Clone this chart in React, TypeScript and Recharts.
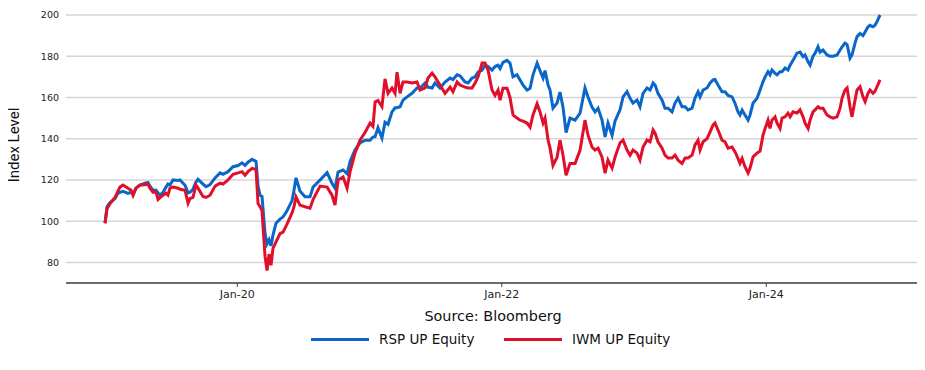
import { CartesianGrid, Line, LineChart, XAxis, YAxis } from "recharts"

// decimal year of each observation
const dates = [
  2019.0, 2019.015, 2019.038, 2019.076, 2019.098, 2019.113, 2019.136, 2019.174, 2019.197, 2019.212,
  2019.234, 2019.265, 2019.302, 2019.325, 2019.34, 2019.363, 2019.386, 2019.401, 2019.416, 2019.439,
  2019.461, 2019.476, 2019.491, 2019.514, 2019.552, 2019.567, 2019.605, 2019.628, 2019.643, 2019.665,
  2019.688, 2019.703, 2019.741, 2019.764, 2019.794, 2019.832, 2019.87, 2019.892, 2019.93, 2019.968,
  2020.006, 2020.036, 2020.059, 2020.081, 2020.112, 2020.142, 2020.157, 2020.172, 2020.187, 2020.21,
  2020.225, 2020.24, 2020.255, 2020.27, 2020.293, 2020.323, 2020.346, 2020.376, 2020.414, 2020.429,
  2020.444, 2020.474, 2020.512, 2020.55, 2020.573, 2020.626, 2020.679, 2020.716, 2020.739, 2020.762,
  2020.8, 2020.83, 2020.853, 2020.89, 2020.928, 2020.966, 2021.004, 2021.026, 2021.042, 2021.064,
  2021.094, 2021.117, 2021.14, 2021.17, 2021.193, 2021.208, 2021.231, 2021.253, 2021.284, 2021.321,
  2021.359, 2021.382, 2021.42, 2021.442, 2021.473, 2021.495, 2021.533, 2021.571, 2021.609, 2021.631,
  2021.662, 2021.684, 2021.722, 2021.745, 2021.775, 2021.798, 2021.82, 2021.851, 2021.873, 2021.896,
  2021.926, 2021.949, 2021.972, 2021.987, 2022.009, 2022.04, 2022.062, 2022.085, 2022.115, 2022.138,
  2022.161, 2022.191, 2022.214, 2022.236, 2022.267, 2022.289, 2022.312, 2022.327, 2022.35, 2022.365,
  2022.387, 2022.418, 2022.44, 2022.463, 2022.486, 2022.516, 2022.554, 2022.592, 2022.629, 2022.652,
  2022.682, 2022.705, 2022.728, 2022.758, 2022.781, 2022.803, 2022.834, 2022.856, 2022.894, 2022.917,
  2022.947, 2022.97, 2022.992, 2023.023, 2023.045, 2023.068, 2023.098, 2023.121, 2023.144, 2023.159,
  2023.181, 2023.212, 2023.234, 2023.257, 2023.287, 2023.31, 2023.333, 2023.363, 2023.386, 2023.408,
  2023.439, 2023.461, 2023.484, 2023.499, 2023.522, 2023.552, 2023.575, 2023.597, 2023.612, 2023.635,
  2023.665, 2023.688, 2023.711, 2023.741, 2023.764, 2023.786, 2023.801, 2023.817, 2023.839, 2023.862,
  2023.877, 2023.9, 2023.93, 2023.953, 2023.975, 2023.991, 2024.013, 2024.028, 2024.043, 2024.066,
  2024.081, 2024.104, 2024.119, 2024.142, 2024.164, 2024.18, 2024.202, 2024.232, 2024.255, 2024.278,
  2024.293, 2024.316, 2024.331, 2024.353, 2024.369, 2024.391, 2024.406, 2024.429, 2024.459, 2024.482,
  2024.505, 2024.535, 2024.558, 2024.573, 2024.595, 2024.611, 2024.633, 2024.648, 2024.671, 2024.686,
  2024.709, 2024.731, 2024.747, 2024.769, 2024.784, 2024.807, 2024.822, 2024.837, 2024.86,
]

const rspValues = [
  99, 107, 109, 111, 113.5, 114, 114.5, 113.5, 114, 113,
  116, 117.5, 118.4, 118.8, 117, 115, 115, 113.6, 112.6, 114,
  116.5, 118, 117.5, 120, 119.7, 120, 117.4, 113.7, 114, 115.5,
  119, 120.3, 118, 116.7, 117.7, 121, 123.4, 122.7, 124, 126.4,
  127, 128.3, 127, 128.6, 130, 129, 117, 112.6, 112, 94,
  89, 91, 88, 93.2, 99, 101, 102, 105, 110, 115,
  121, 114.6, 111.8, 111.8, 116.5, 120, 123.5, 118.4, 116, 123.8,
  124.8, 123, 129, 134.5, 138, 139.3, 139.3, 140.8, 141, 145.3,
  140.3, 148, 147, 153, 155, 155, 155.5, 158.7, 160.3, 162,
  164.6, 164.6, 167, 165, 164.6, 167, 164.6, 167.5, 169.4, 168.7,
  171, 170.5, 167.5, 167, 169.4, 170, 172.3, 173.3, 175.7, 175,
  173.3, 175, 175.7, 174, 177, 178, 176.7, 170, 171, 168.5,
  166, 163.6, 164.5, 171, 176.7, 173, 169.4, 173, 166, 163.6,
  154.8, 157.3, 162.6, 155.3, 143, 150, 149, 152.4, 164.6, 160.2,
  155.3, 153, 154.8, 149, 140.8, 147.6, 141.7, 148.5, 154, 160.3,
  162.8, 159.6, 157.3, 158.7, 155.5, 162, 164.6, 163.6, 167, 166,
  162, 158.7, 154.8, 154.8, 153, 157.3, 159.7, 155.5, 155.5, 153.9,
  154.8, 159.7, 162.8, 160.3, 163.6, 164.6, 167, 168.5, 168.7, 166,
  162.8, 162.8, 161, 160.3, 157.1, 153, 151.5, 153.9, 151.5, 149,
  151.5, 157.3, 159.6, 163.6, 167.6, 170, 172.5, 171, 173.3, 171.7,
  171, 172.5, 172.5, 174.3, 173.3, 175.7, 178, 181.5, 182, 179.8,
  180.6, 177.3, 175.7, 180, 181.5, 184.6, 182, 183, 180.6, 180,
  180, 180.6, 183, 184.6, 186.4, 185.6, 179, 180.6, 186.4, 189.5,
  191, 190, 191.8, 194.3, 195, 194.3, 195, 196.8, 200,
]

const iwmValues = [
  99, 106, 108.5, 111.5, 114.5, 116.5, 117.5, 116, 115, 112.5,
  116, 117.5, 117.7, 118, 116, 114, 114, 110.5, 111.4, 112.6,
  113.6, 112.6, 116, 116.5, 116, 115.5, 115, 108.7, 111, 111.5,
  117.5, 116, 112, 111.5, 112.6, 117, 118.4, 118, 120, 122.7,
  123.4, 124, 122.3, 124, 125.6, 125, 108.5, 107, 105, 83,
  76, 84, 78.6, 86.8, 90, 94, 94.7, 98.6, 104, 107,
  111.8, 107.8, 107, 106.3, 110.5, 117, 116.5, 112.6, 107.8, 120,
  121.4, 116, 124, 133, 139.3, 143, 147.6, 146, 157.8, 158.5,
  155.5, 169, 162, 164.6, 162, 172.3, 162, 167.5, 167.5, 167,
  167.5, 163.6, 164.6, 169.4, 171.8, 170, 166, 162, 165, 162.8,
  167.5, 166, 165, 164.6, 164.6, 167, 170, 176.7, 176.7, 173.3,
  163.6, 161, 163.6, 158.7, 164.5, 164.5, 160, 151.5, 150, 149,
  148.5, 147.6, 145.6, 151.5, 157, 153, 147.6, 150, 139.3, 135.4,
  127, 131, 139.3, 132, 122.3, 128, 128, 134.5, 149, 141.7,
  136, 134.5, 135.4, 131, 123.3, 129.6, 125.7, 131, 138, 139.3,
  134.5, 132, 134.5, 133, 129.6, 136, 139.3, 138.5, 144.2, 142.7,
  138.5, 135.4, 132, 130.6, 130.6, 132, 129.6, 128, 130.6, 130.6,
  132, 137, 139.3, 134.5, 138.5, 140, 143.3, 146.6, 147.6, 144.2,
  139.3, 138.5, 135.4, 136, 133.6, 130.4, 128, 130.4, 126.4, 123.3,
  125.7, 131.2, 133, 134, 141.7, 145, 149, 145, 149, 150.6,
  147.6, 145, 150, 150.6, 152.4, 150.6, 153, 152.4, 154, 150.6,
  147.6, 145, 149, 153, 154, 155.5, 154.8, 154.8, 151.5, 150.6,
  150, 150.6, 154.8, 159.7, 163.6, 164.6, 155.5, 150.6, 158.7, 163.6,
  165.2, 160.3, 158, 162, 163.6, 162, 163, 165.2, 168.5,
]

const yTicks = [80, 100, 120, 140, 160, 180, 200]
const xTicks = [2020, 2022, 2024]

const data = dates.map((t, i) => ({ t, rsp: rspValues[i], iwm: iwmValues[i] }))

const BLUE = "#0a66c9"
const RED = "#e00f2a"
const FONT = "'DejaVu Sans', Verdana, sans-serif"

export default function App() {
  return (
    <div style={{ position: "relative", width: 917, height: 354, fontFamily: FONT }}>
      <LineChart width={917} height={354} data={data} margin={{ top: 7, right: 7, bottom: 54, left: 0 }}>
        <CartesianGrid vertical={false} stroke="#d6d6d6" strokeWidth={1.5} />
        <XAxis
          dataKey="t"
          type="number"
          domain={[2018.705, 2025.147]}
          ticks={xTicks}
          tickFormatter={(v: number) => `Jan-${String(v).slice(2)}`}
          height={25}
          axisLine={{ stroke: "#444", strokeWidth: 1.5 }}
          tickLine={{ stroke: "#444" }}
          tickSize={4}
          tickMargin={3}
          tick={{ fontSize: 11, fill: "#222", fontFamily: FONT }}
        />
        <YAxis
          domain={[70, 200]}
          ticks={yTicks}
          width={58}
          axisLine={false}
          tickLine={false}
          tickMargin={1}
          tick={{ fontSize: 9.5, fill: "#222", fontFamily: FONT }}
        />
        <Line type="linear" dataKey="rsp" stroke={BLUE} strokeWidth={3} dot={false} isAnimationActive={false} />
        <Line type="linear" dataKey="iwm" stroke={RED} strokeWidth={3} dot={false} isAnimationActive={false} />
      </LineChart>

      {/* axis title */}
      <div
        style={{
          position: "absolute",
          left: 5.5,
          top: 137,
          transform: "translate(-50%, -50%) rotate(-90deg)",
          whiteSpace: "nowrap",
          fontSize: 15,
          color: "#111",
          fontFamily: "'Liberation Sans Narrow', 'Roboto', sans-serif",
        }}
      >
        Index Level
      </div>

      {/* source line */}
      <div
        style={{
          position: "absolute",
          left: 485,
          top: 308,
          transform: "translate(-50%, -50%)",
          whiteSpace: "nowrap",
          fontSize: 14.4,
          color: "#111",
        }}
      >
        Source: Bloomberg
      </div>

      {/* legend */}
      {[
        { name: "RSP UP Equity", color: BLUE, left: 303 },
        { name: "IWM UP Equity", color: RED, left: 496 },
      ].map((item) => (
        <div
          key={item.name}
          style={{
            position: "absolute",
            left: item.left,
            top: 331,
            transform: "translateY(-50%)",
            display: "flex",
            alignItems: "center",
            whiteSpace: "nowrap",
            fontSize: 13.5,
            color: "#111",
          }}
        >
          <span style={{ display: "inline-block", width: 58, height: 3, background: item.color, marginRight: 10 }} />
          {item.name}
        </div>
      ))}
    </div>
  )
}
